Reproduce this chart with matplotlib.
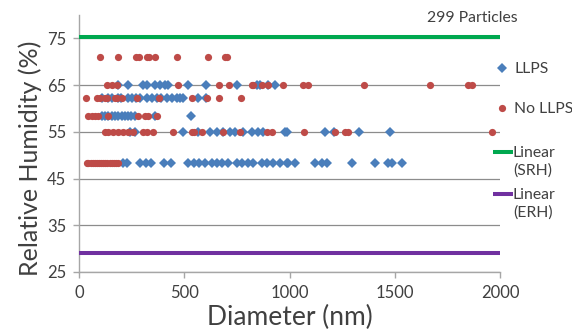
import matplotlib
matplotlib.use("Agg")
import matplotlib.pyplot as plt
from matplotlib.lines import Line2D

plt.rcParams['font.family'] = ['Lato', 'DejaVu Sans']

# Particle diameters (nm) grouped by the relative humidity (%) at which they were observed
llps_rh = [65.0, 62.3, 58.3, 55.0, 48.3]
llps_diam = [
    [187, 234, 305, 322, 361, 385, 409, 424, 516, 603, 749, 844, 860, 899, 931],
    [108, 139, 155, 187, 200, 234, 250, 270, 290, 322, 345, 370, 390, 417, 440,
     464, 480, 495, 567, 602],
    [107, 123, 139, 155, 170, 186, 202, 217, 233, 249, 265, 361, 530],
    [242, 266, 495, 567, 622, 654, 685, 717, 741, 780, 820, 852, 875, 978, 986,
     1169, 1213, 1329, 1477],
    [207, 226, 290, 317, 342, 405, 437, 519, 548, 570, 598, 630, 654, 681, 706,
     749, 773, 804, 828, 868, 891, 923, 955, 986, 994, 1026, 1121, 1153, 1177,
     1295, 1406, 1470, 1489, 1533],
]

nollps_rh = [71.1, 65.0, 62.3, 58.3, 55.0, 48.3]
nollps_diam = [
    [100, 187, 271, 286, 322, 334, 361, 464, 614, 694, 702],
    [132, 155, 179, 472, 665, 713, 820, 828, 868, 896, 970, 1065, 1086, 1355,
     1667, 1849, 1865],
    [32, 84, 100, 124, 134, 171, 179, 203, 277, 380, 535, 607, 665, 768],
    [44, 60, 76, 92, 139, 282, 314, 329, 369],
    [124, 139, 163, 187, 210, 234, 258, 305, 322, 353, 448, 535, 548, 583, 685,
     765, 892, 915, 1070, 1216, 1264, 1276, 1960],
    [36, 45, 55, 65, 75, 85, 95, 105, 115, 125, 135, 145, 155, 165, 175, 186],
]

srh_level = 75.2
erh_level = 29.0
x_range = [0, 2000]

yticks = [25, 35, 45, 55, 65, 75]
xticks = [0, 500, 1000, 1500, 2000]

blue = '#4A7EBB'
red = '#BE4B48'
green = '#00A84F'
purple = '#7030A0'
text_col = '#404040'
grid_col = '#8C8C8C'
axis_col = '#A6A6A6'

fig = plt.figure(figsize=(5.72, 3.31), dpi=100)
ax = fig.add_axes([79 / 572, 1 - 272 / 331, 421 / 572, 257 / 331])

ax.set_xlim(0, 2000)
ax.set_ylim(25, 80)
ax.set_yticks(yticks)
ax.set_xticks(xticks)
ax.yaxis.grid(True, color=grid_col, linewidth=0.9)
ax.set_axisbelow(True)

for s in ['top', 'right']:
    ax.spines[s].set_visible(False)
for s in ['left', 'bottom']:
    ax.spines[s].set_color(axis_col)
    ax.spines[s].set_linewidth(1.0)

ax.tick_params(axis='both', colors=axis_col, labelcolor=text_col,
               labelsize=12, length=4, width=1.0)
ax.tick_params(axis='x', pad=5)
ax.tick_params(axis='y', pad=5)

# trend lines for the two humidity thresholds
ax.plot(x_range, [srh_level, srh_level], color=green, linewidth=2.9,
        solid_capstyle='butt', zorder=3)
ax.plot(x_range, [erh_level, erh_level], color=purple, linewidth=2.9,
        solid_capstyle='butt', zorder=3)

for rh, ds in zip(llps_rh, llps_diam):
    ax.plot(ds, [rh] * len(ds), linestyle='none', marker='D', markersize=5.4,
            color=blue, markeredgewidth=0, zorder=4, clip_on=False)
for rh, ds in zip(nollps_rh, nollps_diam):
    ax.plot(ds, [rh] * len(ds), linestyle='none', marker='o', markersize=5.2,
            color=red, markeredgewidth=0, zorder=5, clip_on=False)

ax.set_xlabel('Diameter (nm)', fontsize=19, color=text_col)
ax.set_ylabel('Relative Humidity (%)', fontsize=18, color=text_col)
ax.xaxis.set_label_coords(0.5, -(305 - 272) / 257)
ax.yaxis.set_label_coords(-(79 - 42) / 421, (272 - 158) / 257)

fig.text(472 / 572, 1 - 18 / 331, '299 Particles', fontsize=11.3, color=text_col,
         ha='center', va='center')

# legend entries
def px(x, y):
    return x / 572, 1 - y / 331

fig.add_artist(Line2D([px(502, 0)[0]], [px(0, 68)[1]], marker='D', markersize=5.4,
                      color=blue, markeredgewidth=0, linestyle='none'))
fig.text(*px(514, 69), 'LLPS', fontsize=11.3, color=text_col, va='center')
fig.add_artist(Line2D([px(502, 0)[0]], [px(0, 108)[1]], marker='o', markersize=5.2,
                      color=red, markeredgewidth=0, linestyle='none'))
fig.text(*px(514, 109), 'No LLPS', fontsize=11.3, color=text_col, va='center')
fig.add_artist(Line2D([px(493, 0)[0], px(513, 0)[0]], [px(0, 152)[1]] * 2,
                      color=green, linewidth=2.9, solid_capstyle='butt'))
fig.text(*px(513, 162), 'Linear\n(SRH)', fontsize=11.3, color=text_col, va='center',
         linespacing=1.35)
fig.add_artist(Line2D([px(493, 0)[0], px(513, 0)[0]], [px(0, 194)[1]] * 2,
                      color=purple, linewidth=2.9, solid_capstyle='butt'))
fig.text(*px(513, 204), 'Linear\n(ERH)', fontsize=11.3, color=text_col, va='center',
         linespacing=1.35)

fig.savefig('out.png', dpi=100)
